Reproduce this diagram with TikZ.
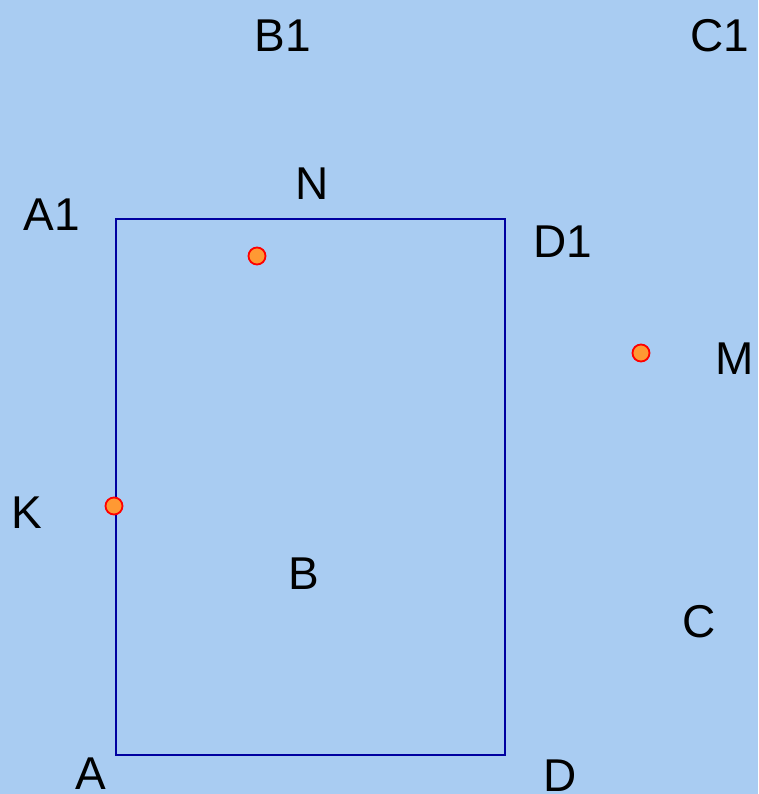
\documentclass[tikz,border=0pt]{standalone}
\usepackage{fontspec}
\setmainfont{Liberation Sans}
\definecolor{bg}{HTML}{A9CCF2}
\definecolor{edge}{HTML}{0000A0}
\definecolor{ptfill}{HTML}{FF9933}
\begin{document}
\begin{tikzpicture}[x=1pt,y=-1pt,
  lbl/.style={font=\fontsize{46}{46}\selectfont, inner sep=0pt, text height=33pt, text depth=0pt, anchor=center},
  pt/.style={circle, fill=ptfill, draw=red, line width=1.8pt, minimum size=17pt, inner sep=0pt}]
\fill[bg] (0,0) rectangle (758,794);
\useasboundingbox (0,0) rectangle (758,794);
\coordinate (A) at (116,755);
\coordinate (D) at (505,755);
\coordinate (D1) at (505,219);
\coordinate (A1) at (116,219);
\draw[edge, line width=2pt] (A) -- (D) -- (D1) -- (A1) -- cycle;
\node[pt] (n) at (257,256) {};
\node[pt] (k) at (114,506) {};
\node[pt] (m) at (641,353) {};
\node[lbl] (lB1) at (283,35) {B1};
\node[lbl] (lC1) at (720,35) {C1};
\node[lbl] (lN) at (312,183) {N};
\node[lbl] (lA1) at (52,214) {A1};
\node[lbl] (lD1) at (563,241) {D1};
\node[lbl] (lM) at (735,358) {M};
\node[lbl] (lK) at (27,512) {K};
\node[lbl] (lB) at (304,573) {B};
\node[lbl] (lC) at (699,621) {C};
\node[lbl] (lA) at (91,773) {A};
\node[lbl] (lD) at (560,775) {D};
\end{tikzpicture}
\end{document}
